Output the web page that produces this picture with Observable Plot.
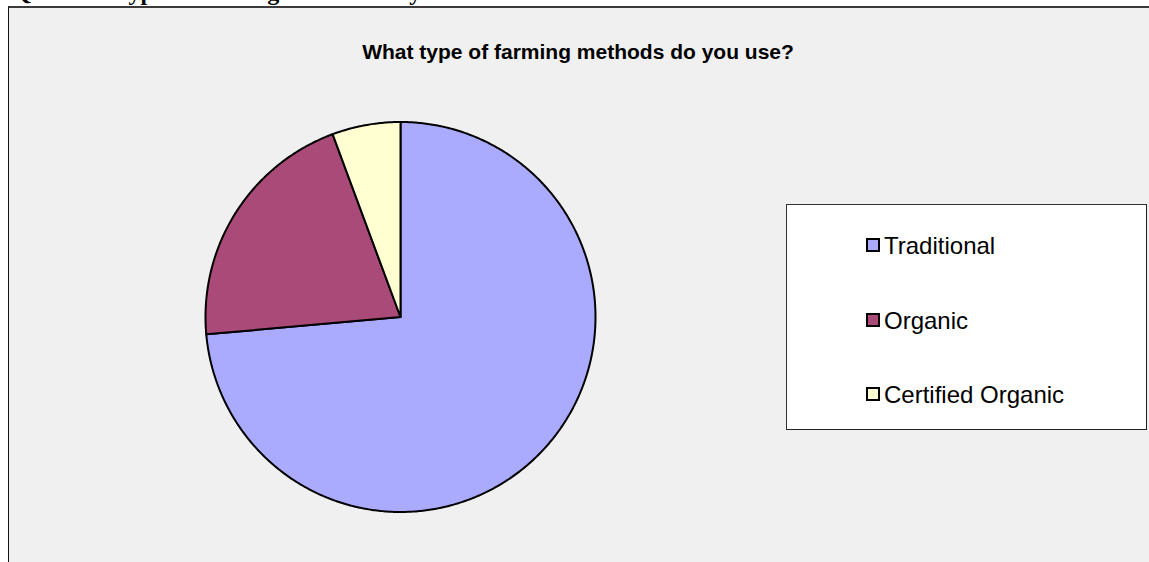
<!DOCTYPE html>
<html>
<head>
<meta charset="utf-8">
<script src="https://cdn.jsdelivr.net/npm/d3@7"></script>
<script src="https://cdn.jsdelivr.net/npm/@observablehq/plot@0.6"></script>
<style>
  html, body { margin: 0; padding: 0; background: #fff; }
  #page { position: relative; width: 1149px; height: 562px; overflow: hidden; }
  #question {
    position: absolute; left: 13px; top: -20px; white-space: nowrap;
    font: bold 24px/24px "Liberation Serif", "Times New Roman", serif; color: #000;
  }
  #area {
    position: absolute; left: 8px; top: 6px; right: -20px; bottom: -20px;
    background: #f0f0f0; border-left: 1px solid #111; border-top: 2px solid #3a3a3a;
  }
  #chart { position: absolute; left: 0; top: 0; }
  #title {
    position: absolute; left: 0; width: 1156px; top: 41px; text-align: center; white-space: nowrap;
    font: bold 21px/21px "Liberation Sans", Arial, sans-serif; color: #000;
  }
  #legend {
    position: absolute; left: 786px; top: 204px; width: 359px; height: 224px;
    background: #fff; border: 1px solid #333; border-right-color: #222; border-bottom-color: #222;
  }
  .item { position: absolute; left: 79px; height: 24px; white-space: nowrap;
    font: 24px/24px "Liberation Sans", Arial, sans-serif; color: #000; }
  .swatch { position: absolute; left: 0; top: 4px; width: 10px; height: 10px; border: 2px solid #000; }
  .label { position: absolute; left: 18px; top: 0; }
</style>
</head>
<body>
<div id="page">
  <div id="question">Q5: What type of farming methods do you use?</div>
  <div id="area"></div>
  <div id="title">What type of farming methods do you use?</div>
  <div id="legend"></div>
</div>
<script>
// Survey answers: number of respondents per farming method
const categories = ["Traditional", "Organic", "Certified Organic"];
const counts = [39, 11, 3];
const fills = ["#aaaaff", "#aa4a78", "#ffffd2"];

// Slice outlines in unit-circle coordinates, starting at 12 o'clock and running clockwise
const arcs = d3.pie().sort(null)(counts);
const outline = arcs.flatMap((a, i) => {
  const n = Math.max(2, Math.ceil((a.endAngle - a.startAngle) / (Math.PI / 360)));
  const pts = [{label: categories[i], x: 0, y: 0}];
  for (let k = 0; k <= n; ++k) {
    const t = a.startAngle + (a.endAngle - a.startAngle) * k / n;
    pts.push({label: categories[i], x: Math.sin(t), y: Math.cos(t)});
  }
  return pts;
});

const chart = Plot.plot({
  width: 1149,
  height: 562,
  margin: 0,
  x: {domain: [-1, 1], range: [205, 595], axis: null},
  y: {domain: [-1, 1], range: [511.5, 121.5], axis: null},
  color: {domain: categories, range: fills},
  style: {background: "transparent", overflow: "visible"},
  marks: [
    Plot.line(outline, {
      x: "x", y: "y", z: "label", fill: "label",
      stroke: "#000", strokeWidth: 2, strokeLinejoin: "round",
      curve: "linear-closed"
    })
  ]
});
chart.id = "chart";
document.getElementById("page").insertBefore(chart, document.getElementById("title"));

// Legend entries use the same colour scale as the slices
const color = chart.scale("color");
const legend = document.getElementById("legend");
const rowTops = [29, 104, 178];
categories.forEach((name, i) => {
  const item = document.createElement("div");
  item.className = "item";
  item.style.top = rowTops[i] + "px";
  const sw = document.createElement("div");
  sw.className = "swatch";
  sw.style.background = color.apply(name);
  const lab = document.createElement("div");
  lab.className = "label";
  lab.textContent = name;
  item.append(sw, lab);
  legend.append(item);
});
</script>
</body>
</html>
